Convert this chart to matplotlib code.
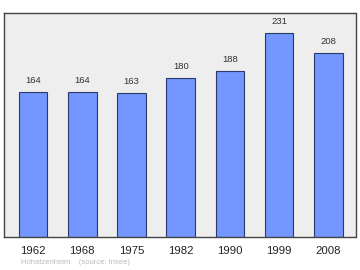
import matplotlib
matplotlib.use("Agg")
import matplotlib.pyplot as plt

years = ["1962", "1968", "1975", "1982", "1990", "1999", "2008"]
population = [164, 164, 163, 180, 188, 231, 208]
footnote = "Hohatzenheim    (source: Insee)"

plt.rcParams['font.family'] = ['Liberation Sans', 'DejaVu Sans']

fig = plt.figure(figsize=(3.6, 2.7), dpi=100)
W, H = 360, 270
ax = fig.add_axes([4 / W, 1 - 236.7 / H, 351.5 / W, 224 / H])
ax.set_facecolor('#eeeeee')

x = list(range(len(years)))
bars = ax.bar(x, population, width=0.58, color='#7396ff', edgecolor='#2a3a6a', linewidth=0.8)
for xi, v in zip(x, population):
    ax.annotate(str(v), (xi, v), xytext=(0, 5), textcoords='offset points',
                ha='center', va='bottom', fontsize=6.8, color='#333333')

ax.set_xlim(-0.59, 6.55)
ax.set_ylim(0, 254)
ax.set_yticks([])
ax.set_xticks(x)
ax.set_xticklabels(years, fontsize=8.2, color='#222222')
ax.tick_params(axis='x', length=0, pad=6.5)
for s in ax.spines.values():
    s.set_color('#444444')
    s.set_linewidth(1.0)

fig.text(21 / W, 1 - 262 / H, footnote, fontsize=5.5, color='#bbbbbb', va='center', ha='left')

fig.savefig("out.png", dpi=100, facecolor='white')
